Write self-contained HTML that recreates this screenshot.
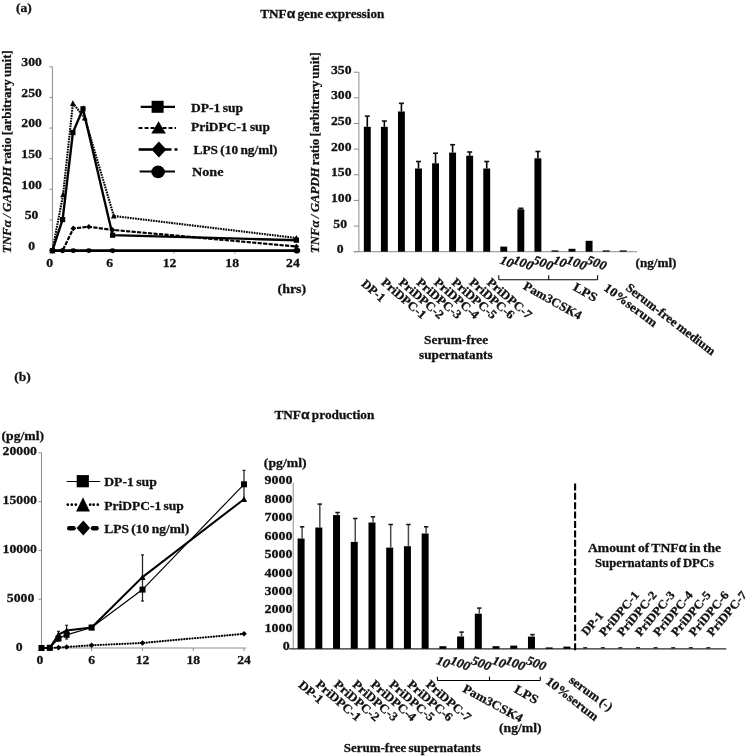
<!DOCTYPE html>
<html lang="en">
<head>
<meta charset="utf-8">
<title>TNF alpha gene expression and production</title>
<style>
html, body { margin: 0; padding: 0; background: #ffffff; }
body { width: 748px; height: 756px; overflow: hidden; font-family: "Liberation Serif", serif; }
svg { display: block; filter: blur(0.4px); }
svg text { font-family: "Liberation Serif", serif; font-weight: bold; fill: #111; stroke: #111; stroke-width: 0.28px; word-spacing: -1px; }
</style>
</head>
<body>
<svg width="748" height="756" viewBox="0 0 748 756">
<rect x="0" y="0" width="748" height="756" fill="#ffffff"/>
<text transform="translate(15.9 11.6) scale(1.0140845070422537 1)" font-size="13.31" text-anchor="start">(a)</text>
<text transform="translate(260.3 18.2)" font-size="12.25" text-anchor="start" textLength="124" lengthAdjust="spacingAndGlyphs">TNF<tspan font-family="Liberation Sans" font-size="13">&#945;</tspan> gene expression</text>
<text transform="translate(14.3 381) scale(1.0140845070422537 1)" font-size="13.31" text-anchor="start">(b)</text>
<text transform="translate(274.4 418.6)" font-size="12.25" text-anchor="start" textLength="100" lengthAdjust="spacingAndGlyphs">TNF<tspan font-family="Liberation Sans" font-size="13">&#945;</tspan> production</text>
<line x1="52.4" y1="66.8" x2="52.4" y2="250.6" stroke="#8c8c8c" stroke-width="1"/>
<line x1="52.4" y1="250.6" x2="298" y2="250.6" stroke="#8c8c8c" stroke-width="1"/>
<line x1="49.4" y1="250.6" x2="52.4" y2="250.6" stroke="#8c8c8c" stroke-width="1"/>
<text transform="translate(31.6 249.79999999999998) scale(1.0328638497652582 1)" font-size="13.31" text-anchor="middle">0</text>
<line x1="49.4" y1="219.96666666666667" x2="52.4" y2="219.96666666666667" stroke="#8c8c8c" stroke-width="1"/>
<text transform="translate(31.6 219.16666666666666) scale(1.0328638497652582 1)" font-size="13.31" text-anchor="middle">50</text>
<line x1="49.4" y1="189.33333333333331" x2="52.4" y2="189.33333333333331" stroke="#8c8c8c" stroke-width="1"/>
<text transform="translate(31.6 188.5333333333333) scale(1.0328638497652582 1)" font-size="13.31" text-anchor="middle">100</text>
<line x1="49.4" y1="158.7" x2="52.4" y2="158.7" stroke="#8c8c8c" stroke-width="1"/>
<text transform="translate(31.6 157.89999999999998) scale(1.0328638497652582 1)" font-size="13.31" text-anchor="middle">150</text>
<line x1="49.4" y1="128.06666666666666" x2="52.4" y2="128.06666666666666" stroke="#8c8c8c" stroke-width="1"/>
<text transform="translate(31.6 127.26666666666667) scale(1.0328638497652582 1)" font-size="13.31" text-anchor="middle">200</text>
<line x1="49.4" y1="97.43333333333331" x2="52.4" y2="97.43333333333331" stroke="#8c8c8c" stroke-width="1"/>
<text transform="translate(31.6 96.63333333333331) scale(1.0328638497652582 1)" font-size="13.31" text-anchor="middle">250</text>
<line x1="49.4" y1="66.79999999999998" x2="52.4" y2="66.79999999999998" stroke="#8c8c8c" stroke-width="1"/>
<text transform="translate(31.6 65.99999999999999) scale(1.0328638497652582 1)" font-size="13.31" text-anchor="middle">300</text>
<text transform="translate(49.6 267) scale(1.0328638497652582 1)" font-size="13.31" text-anchor="middle">0</text>
<text transform="translate(109.8 267) scale(1.0328638497652582 1)" font-size="13.31" text-anchor="middle">6</text>
<text transform="translate(169.6 267) scale(1.0328638497652582 1)" font-size="13.31" text-anchor="middle">12</text>
<text transform="translate(232.2 267) scale(1.0328638497652582 1)" font-size="13.31" text-anchor="middle">18</text>
<text transform="translate(292.9 267) scale(1.0328638497652582 1)" font-size="13.31" text-anchor="middle">24</text>
<line x1="113" y1="250.6" x2="113" y2="253.6" stroke="#8c8c8c" stroke-width="1"/>
<line x1="174" y1="250.6" x2="174" y2="253.6" stroke="#8c8c8c" stroke-width="1"/>
<line x1="235" y1="250.6" x2="235" y2="253.6" stroke="#8c8c8c" stroke-width="1"/>
<line x1="296" y1="250.6" x2="296" y2="253.6" stroke="#8c8c8c" stroke-width="1"/>
<text transform="translate(277.5 292.5)" font-size="13.31" text-anchor="start" textLength="28.7" lengthAdjust="spacingAndGlyphs">(hrs)</text>
<text transform="translate(11.2 253.2) rotate(-90)" font-size="12.99" text-anchor="start" textLength="203" lengthAdjust="spacingAndGlyphs"><tspan font-style="italic">TNF&#945; / GAPDH</tspan> ratio [arbitrary unit]</text>
<polyline points="52.4,250.6 62.6,250.6 73.30000000000001,250.6 88.8,250.6 112.6,250.6 296.4,250.6" fill="none" stroke="#000" stroke-width="2.8"/>
<polyline points="52.4,250.6 62.6,250.6 73.30000000000001,228.4 88.8,226.8 112.6,229.9 296.4,246.5" fill="none" stroke="#000" stroke-width="2.2" stroke-dasharray="4.2 1.3"/>
<polyline points="52.4,250.6 63.1,194.6 72.9,103.4 84.8,117.9 113.8,216.0 296.4,238.0" fill="none" stroke="#000" stroke-width="2.1" stroke-dasharray="1.7 0.9"/>
<polyline points="52.4,250.6 62.6,219.6 72.9,132.6 83.0,108.8 112.6,235.2 296.4,240.2" fill="none" stroke="#000" stroke-width="2.4"/>
<ellipse cx="52.4" cy="250.6" rx="2.8" ry="2.3" fill="#000"/>
<ellipse cx="62.6" cy="250.6" rx="2.8" ry="2.3" fill="#000"/>
<ellipse cx="73.30000000000001" cy="250.6" rx="2.8" ry="2.3" fill="#000"/>
<ellipse cx="88.8" cy="250.6" rx="2.8" ry="2.3" fill="#000"/>
<ellipse cx="112.6" cy="250.6" rx="2.8" ry="2.3" fill="#000"/>
<ellipse cx="296.4" cy="250.6" rx="2.8" ry="2.3" fill="#000"/>
<ellipse cx="297.0" cy="250.6" rx="3.3" ry="2.8" fill="#000"/>
<polygon points="52.4,247.79999999999998 55.199999999999996,250.6 52.4,253.4 49.6,250.6" fill="#000"/>
<polygon points="62.6,247.79999999999998 65.4,250.6 62.6,253.4 59.800000000000004,250.6" fill="#000"/>
<polygon points="73.30000000000001,225.6 76.10000000000001,228.4 73.30000000000001,231.20000000000002 70.50000000000001,228.4" fill="#000"/>
<polygon points="88.8,224.0 91.6,226.8 88.8,229.60000000000002 86.0,226.8" fill="#000"/>
<polygon points="112.6,227.1 115.39999999999999,229.9 112.6,232.70000000000002 109.8,229.9" fill="#000"/>
<polygon points="296.4,243.7 299.2,246.5 296.4,249.3 293.59999999999997,246.5" fill="#000"/>
<polygon points="52.4,247.48999999999998 55.3,253.21 49.5,253.21" fill="#000"/>
<polygon points="63.1,191.48999999999998 66.0,197.21 60.2,197.21" fill="#000"/>
<polygon points="72.9,100.29 75.80000000000001,106.01 70.0,106.01" fill="#000"/>
<polygon points="84.8,114.79 87.7,120.51 81.89999999999999,120.51" fill="#000"/>
<polygon points="113.8,212.89 116.7,218.61 110.89999999999999,218.61" fill="#000"/>
<polygon points="296.4,234.89 299.29999999999995,240.61 293.5,240.61" fill="#000"/>
<rect x="49.8" y="248.0" width="5.2" height="5.2" fill="#000"/>
<rect x="60.0" y="217.0" width="5.2" height="5.2" fill="#000"/>
<rect x="70.30000000000001" y="130.0" width="5.2" height="5.2" fill="#000"/>
<rect x="80.4" y="106.2" width="5.2" height="5.2" fill="#000"/>
<rect x="110.0" y="232.6" width="5.2" height="5.2" fill="#000"/>
<rect x="293.79999999999995" y="237.6" width="5.2" height="5.2" fill="#000"/>
<line x1="140.7" y1="106.8" x2="175" y2="106.8" stroke="#000" stroke-width="2.2"/>
<rect x="151.6" y="100.8" width="12" height="12" fill="#000"/>
<line x1="138.6" y1="128.1" x2="176" y2="128.1" stroke="#000" stroke-width="2" stroke-dasharray="3.9 2.1"/>
<polygon points="158.6,121.2 165.9,133.6 151.3,133.6" fill="#000"/>
<line x1="138.6" y1="149.5" x2="160" y2="149.5" stroke="#000" stroke-width="2.6"/>
<line x1="160" y1="149.5" x2="177.5" y2="149.5" stroke="#000" stroke-width="2.6" stroke-dasharray="11.5 3 3 3"/>
<polygon points="158.9,141.6 166.4,149.6 158.9,157.6 151.4,149.6" fill="#000"/>
<line x1="139.6" y1="171.5" x2="175" y2="171.5" stroke="#000" stroke-width="2.2"/>
<ellipse cx="158.1" cy="171.9" rx="6.8" ry="6.3" fill="#000"/>
<text transform="translate(191 112)" font-size="13.31" text-anchor="start" textLength="52" lengthAdjust="spacingAndGlyphs">DP-1 sup</text>
<text transform="translate(191 131)" font-size="13.31" text-anchor="start" textLength="79" lengthAdjust="spacingAndGlyphs">PriDPC-1 sup</text>
<text transform="translate(193.5 154.2)" font-size="13.31" text-anchor="start" textLength="84" lengthAdjust="spacingAndGlyphs">LPS (10 ng/ml)</text>
<text transform="translate(192 176.2)" font-size="13.31" text-anchor="start" textLength="31.5" lengthAdjust="spacingAndGlyphs">None</text>
<line x1="358.9" y1="72.2" x2="358.9" y2="251.7" stroke="#8c8c8c" stroke-width="1"/>
<line x1="353.7" y1="251.7" x2="637" y2="251.7" stroke="#8c8c8c" stroke-width="1"/>
<line x1="353.7" y1="251.7" x2="358.9" y2="251.7" stroke="#8c8c8c" stroke-width="1"/>
<text transform="translate(340.2 253.29999999999998) scale(1.0328638497652582 1)" font-size="13.31" text-anchor="middle">0</text>
<line x1="353.7" y1="226.05714285714285" x2="358.9" y2="226.05714285714285" stroke="#8c8c8c" stroke-width="1"/>
<text transform="translate(340.2 227.65714285714284) scale(1.0328638497652582 1)" font-size="13.31" text-anchor="middle">50</text>
<line x1="353.7" y1="200.4142857142857" x2="358.9" y2="200.4142857142857" stroke="#8c8c8c" stroke-width="1"/>
<text transform="translate(341.3 202.0142857142857) scale(1.0328638497652582 1)" font-size="13.31" text-anchor="middle">100</text>
<line x1="353.7" y1="174.77142857142854" x2="358.9" y2="174.77142857142854" stroke="#8c8c8c" stroke-width="1"/>
<text transform="translate(341.3 176.37142857142854) scale(1.0328638497652582 1)" font-size="13.31" text-anchor="middle">150</text>
<line x1="353.7" y1="149.1285714285714" x2="358.9" y2="149.1285714285714" stroke="#8c8c8c" stroke-width="1"/>
<text transform="translate(341.3 150.7285714285714) scale(1.0328638497652582 1)" font-size="13.31" text-anchor="middle">200</text>
<line x1="353.7" y1="123.48571428571427" x2="358.9" y2="123.48571428571427" stroke="#8c8c8c" stroke-width="1"/>
<text transform="translate(341.3 125.08571428571426) scale(1.0328638497652582 1)" font-size="13.31" text-anchor="middle">250</text>
<line x1="353.7" y1="97.84285714285713" x2="358.9" y2="97.84285714285713" stroke="#8c8c8c" stroke-width="1"/>
<text transform="translate(341.3 99.44285714285712) scale(1.0328638497652582 1)" font-size="13.31" text-anchor="middle">300</text>
<line x1="353.7" y1="72.19999999999996" x2="358.9" y2="72.19999999999996" stroke="#8c8c8c" stroke-width="1"/>
<text transform="translate(341.3 73.79999999999995) scale(1.0328638497652582 1)" font-size="13.31" text-anchor="middle">350</text>
<text transform="translate(319.3 253.2) rotate(-90)" font-size="12.99" text-anchor="start" textLength="201" lengthAdjust="spacingAndGlyphs"><tspan font-style="italic">TNF&#945; / GAPDH</tspan> ratio [arbitrary unit]</text>
<rect x="363.85" y="126.8" width="6.9" height="124.89999999999999" fill="#000"/>
<line x1="367.3" y1="116.1" x2="367.3" y2="126.8" stroke="#000" stroke-width="1.6"/>
<line x1="364.8" y1="116.1" x2="369.8" y2="116.1" stroke="#111" stroke-width="1.6"/>
<rect x="380.91" y="126.8" width="6.9" height="124.89999999999999" fill="#000"/>
<line x1="384.36" y1="121.0" x2="384.36" y2="126.8" stroke="#000" stroke-width="1.6"/>
<line x1="381.86" y1="121.0" x2="386.86" y2="121.0" stroke="#111" stroke-width="1.6"/>
<rect x="397.97" y="111.5" width="6.9" height="140.2" fill="#000"/>
<line x1="401.42" y1="103.3" x2="401.42" y2="111.5" stroke="#000" stroke-width="1.6"/>
<line x1="398.92" y1="103.3" x2="403.92" y2="103.3" stroke="#111" stroke-width="1.6"/>
<rect x="415.03000000000003" y="168.5" width="6.9" height="83.19999999999999" fill="#000"/>
<line x1="418.48" y1="161.5" x2="418.48" y2="168.5" stroke="#000" stroke-width="1.6"/>
<line x1="415.98" y1="161.5" x2="420.98" y2="161.5" stroke="#111" stroke-width="1.6"/>
<rect x="432.09000000000003" y="163.3" width="6.9" height="88.39999999999998" fill="#000"/>
<line x1="435.54" y1="153.2" x2="435.54" y2="163.3" stroke="#000" stroke-width="1.6"/>
<line x1="433.04" y1="153.2" x2="438.04" y2="153.2" stroke="#111" stroke-width="1.6"/>
<rect x="449.15000000000003" y="152.6" width="6.9" height="99.1" fill="#000"/>
<line x1="452.6" y1="144.7" x2="452.6" y2="152.6" stroke="#000" stroke-width="1.6"/>
<line x1="450.1" y1="144.7" x2="455.1" y2="144.7" stroke="#111" stroke-width="1.6"/>
<rect x="466.21" y="155.7" width="6.9" height="96.0" fill="#000"/>
<line x1="469.65999999999997" y1="152.0" x2="469.65999999999997" y2="155.7" stroke="#000" stroke-width="1.6"/>
<line x1="467.15999999999997" y1="152.0" x2="472.15999999999997" y2="152.0" stroke="#111" stroke-width="1.6"/>
<rect x="483.27000000000004" y="168.5" width="6.9" height="83.19999999999999" fill="#000"/>
<line x1="486.72" y1="161.5" x2="486.72" y2="168.5" stroke="#000" stroke-width="1.6"/>
<line x1="484.22" y1="161.5" x2="489.22" y2="161.5" stroke="#111" stroke-width="1.6"/>
<rect x="500.33" y="246.6" width="6.9" height="5.099999999999994" fill="#000"/>
<rect x="517.39" y="209.3" width="6.9" height="42.39999999999998" fill="#000"/>
<line x1="520.84" y1="208.3" x2="520.84" y2="209.3" stroke="#000" stroke-width="1.6"/>
<line x1="518.34" y1="208.3" x2="523.34" y2="208.3" stroke="#111" stroke-width="1.6"/>
<rect x="534.4499999999999" y="158.3" width="6.9" height="93.39999999999998" fill="#000"/>
<line x1="537.9" y1="151.5" x2="537.9" y2="158.3" stroke="#000" stroke-width="1.6"/>
<line x1="535.4" y1="151.5" x2="540.4" y2="151.5" stroke="#111" stroke-width="1.6"/>
<rect x="551.51" y="250.4" width="6.9" height="1.299999999999983" fill="#000"/>
<rect x="568.5699999999999" y="248.8" width="6.9" height="2.8999999999999773" fill="#000"/>
<rect x="585.6299999999999" y="240.8" width="6.9" height="10.899999999999977" fill="#000"/>
<rect x="602.6899999999999" y="250.4" width="6.9" height="1.299999999999983" fill="#000"/>
<rect x="619.75" y="250.4" width="6.9" height="1.299999999999983" fill="#000"/>
<text transform="translate(360.7 285.0) rotate(41)" font-size="12.35" text-anchor="start" textLength="26.8" lengthAdjust="spacingAndGlyphs">DP-1</text>
<text transform="translate(380.4 283.5) rotate(41)" font-size="12.35" text-anchor="start" textLength="55" lengthAdjust="spacingAndGlyphs">PriDPC-1</text>
<text transform="translate(398.03 283.5) rotate(41)" font-size="12.35" text-anchor="start" textLength="55" lengthAdjust="spacingAndGlyphs">PriDPC-2</text>
<text transform="translate(415.65999999999997 283.5) rotate(41)" font-size="12.35" text-anchor="start" textLength="55" lengthAdjust="spacingAndGlyphs">PriDPC-3</text>
<text transform="translate(433.28999999999996 283.5) rotate(41)" font-size="12.35" text-anchor="start" textLength="55" lengthAdjust="spacingAndGlyphs">PriDPC-4</text>
<text transform="translate(450.91999999999996 283.5) rotate(41)" font-size="12.35" text-anchor="start" textLength="55" lengthAdjust="spacingAndGlyphs">PriDPC-5</text>
<text transform="translate(468.54999999999995 283.5) rotate(41)" font-size="12.35" text-anchor="start" textLength="55" lengthAdjust="spacingAndGlyphs">PriDPC-6</text>
<text transform="translate(486.17999999999995 283.5) rotate(41)" font-size="12.35" text-anchor="start" textLength="55" lengthAdjust="spacingAndGlyphs">PriDPC-7</text>
<text transform="translate(499.3 263.3) rotate(20) scale(1.051643192488263 1)" font-size="12.78" text-anchor="start" font-style="italic" stroke="#111" stroke-width="0.45">10</text>
<text transform="translate(512.3 263.3) rotate(20) scale(1.051643192488263 1)" font-size="12.78" text-anchor="start" font-style="italic" stroke="#111" stroke-width="0.45">100</text>
<text transform="translate(532.3 263.3) rotate(20) scale(1.051643192488263 1)" font-size="12.78" text-anchor="start" font-style="italic" stroke="#111" stroke-width="0.45">500</text>
<text transform="translate(552.3 263.3) rotate(20) scale(1.051643192488263 1)" font-size="12.78" text-anchor="start" font-style="italic" stroke="#111" stroke-width="0.45">10</text>
<text transform="translate(565.8 263.3) rotate(20) scale(1.051643192488263 1)" font-size="12.78" text-anchor="start" font-style="italic" stroke="#111" stroke-width="0.45">100</text>
<text transform="translate(585.8 263.3) rotate(20) scale(1.051643192488263 1)" font-size="12.78" text-anchor="start" font-style="italic" stroke="#111" stroke-width="0.45">500</text>
<text transform="translate(635.5 266.5)" font-size="13.31" text-anchor="start" textLength="41" lengthAdjust="spacingAndGlyphs">(ng/ml)</text>
<line x1="498.8" y1="279.7" x2="597.6" y2="279.7" stroke="#000" stroke-width="1.1"/>
<line x1="498.8" y1="275.2" x2="498.8" y2="279.7" stroke="#000" stroke-width="1.1"/>
<line x1="548.7" y1="275.2" x2="548.7" y2="279.7" stroke="#000" stroke-width="1.1"/>
<line x1="597.6" y1="275.2" x2="597.6" y2="279.7" stroke="#000" stroke-width="1.1"/>
<text transform="translate(522.5 288.6) rotate(29)" font-size="12.57" text-anchor="start" textLength="64.5" lengthAdjust="spacingAndGlyphs">Pam3CSK4</text>
<text transform="translate(572.2 289.5) rotate(29.5)" font-size="12.57" text-anchor="start" textLength="25.5" lengthAdjust="spacingAndGlyphs">LPS</text>
<text transform="translate(603.1 289.5) rotate(37)" font-size="12.57" text-anchor="start" textLength="63" lengthAdjust="spacingAndGlyphs">10%serum</text>
<text transform="translate(624.9 289.3) rotate(37.5)" font-size="12.57" text-anchor="start" textLength="109" lengthAdjust="spacingAndGlyphs">Serum-free medium</text>
<text transform="translate(456.1 343.6)" font-size="12.78" text-anchor="middle" textLength="64" lengthAdjust="spacingAndGlyphs">Serum-free</text>
<text transform="translate(455.8 358.8)" font-size="12.78" text-anchor="middle" textLength="73.5" lengthAdjust="spacingAndGlyphs">supernatants</text>
<line x1="41.5" y1="452.8" x2="41.5" y2="648.0" stroke="#8c8c8c" stroke-width="1"/>
<line x1="41.5" y1="648.0" x2="246" y2="648.0" stroke="#8c8c8c" stroke-width="1"/>
<line x1="38.5" y1="648.0" x2="41.5" y2="648.0" stroke="#8c8c8c" stroke-width="1"/>
<text transform="translate(19.3 650.6) scale(1.0328638497652582 1)" font-size="13.31" text-anchor="middle">0</text>
<line x1="38.5" y1="599.2" x2="41.5" y2="599.2" stroke="#8c8c8c" stroke-width="1"/>
<text transform="translate(34.3 601.8000000000001) scale(1.0328638497652582 1)" font-size="13.31" text-anchor="end">5000</text>
<line x1="38.5" y1="550.4" x2="41.5" y2="550.4" stroke="#8c8c8c" stroke-width="1"/>
<text transform="translate(36.9 553.0) scale(1.0328638497652582 1)" font-size="13.31" text-anchor="end">10000</text>
<line x1="38.5" y1="501.6" x2="41.5" y2="501.6" stroke="#8c8c8c" stroke-width="1"/>
<text transform="translate(36.9 504.20000000000005) scale(1.0328638497652582 1)" font-size="13.31" text-anchor="end">15000</text>
<line x1="38.5" y1="452.8" x2="41.5" y2="452.8" stroke="#8c8c8c" stroke-width="1"/>
<text transform="translate(36.9 455.40000000000003) scale(1.0328638497652582 1)" font-size="13.31" text-anchor="end">20000</text>
<text transform="translate(40 663.8) scale(1.0328638497652582 1)" font-size="13.31" text-anchor="middle">0</text>
<text transform="translate(91.6 663.8) scale(1.0328638497652582 1)" font-size="13.31" text-anchor="middle">6</text>
<line x1="91.6" y1="648.0" x2="91.6" y2="651.0" stroke="#8c8c8c" stroke-width="1"/>
<text transform="translate(142.5 663.8) scale(1.0328638497652582 1)" font-size="13.31" text-anchor="middle">12</text>
<line x1="142.5" y1="648.0" x2="142.5" y2="651.0" stroke="#8c8c8c" stroke-width="1"/>
<text transform="translate(193.3 663.8) scale(1.0328638497652582 1)" font-size="13.31" text-anchor="middle">18</text>
<line x1="193.3" y1="648.0" x2="193.3" y2="651.0" stroke="#8c8c8c" stroke-width="1"/>
<text transform="translate(244 663.8) scale(1.0328638497652582 1)" font-size="13.31" text-anchor="middle">24</text>
<line x1="244" y1="648.0" x2="244" y2="651.0" stroke="#8c8c8c" stroke-width="1"/>
<text transform="translate(1.5 439.6)" font-size="13.31" text-anchor="start" textLength="42.6" lengthAdjust="spacingAndGlyphs">(pg/ml)</text>
<polyline points="41.5,648 49.8,648 58.5,647.6 66.6,647.0 91.6,645.3 142.5,643.0 244,633.8" fill="none" stroke="#000" stroke-width="2.2" stroke-dasharray="0.1 2.6" stroke-linecap="round"/>
<polyline points="41.5,648 49.8,647.8 58.5,634.5 66.6,630.5 91.6,627.5 142.5,577.1 244,499.2" fill="none" stroke="#000" stroke-width="2.0"/>
<polyline points="41.5,648 49.8,647.8 58.5,638.5 66.6,634.8 91.6,627.5 142.5,589.6 244,484.3" fill="none" stroke="#000" stroke-width="1.2"/>
<line x1="142.5" y1="554.9" x2="142.5" y2="601.0" stroke="#222" stroke-width="1.25"/>
<line x1="141.0" y1="554.9" x2="144.0" y2="554.9" stroke="#222" stroke-width="1.25"/>
<line x1="141.0" y1="601.0" x2="144.0" y2="601.0" stroke="#222" stroke-width="1.25"/>
<line x1="244" y1="470.4" x2="244" y2="500.8" stroke="#222" stroke-width="1.25"/>
<line x1="242.5" y1="470.4" x2="245.5" y2="470.4" stroke="#222" stroke-width="1.25"/>
<line x1="242.5" y1="500.8" x2="245.5" y2="500.8" stroke="#222" stroke-width="1.25"/>
<line x1="58.5" y1="631.3" x2="58.5" y2="641" stroke="#222" stroke-width="1.25"/>
<line x1="57.0" y1="631.3" x2="60.0" y2="631.3" stroke="#222" stroke-width="1.25"/>
<line x1="57.0" y1="641" x2="60.0" y2="641" stroke="#222" stroke-width="1.25"/>
<line x1="66.6" y1="625.3" x2="66.6" y2="639" stroke="#222" stroke-width="1.25"/>
<line x1="65.1" y1="625.3" x2="68.1" y2="625.3" stroke="#222" stroke-width="1.25"/>
<line x1="65.1" y1="639" x2="68.1" y2="639" stroke="#222" stroke-width="1.25"/>
<polygon points="41.5,645.2 44.3,648 41.5,650.8 38.7,648" fill="#000"/>
<polygon points="49.8,645.2 52.599999999999994,648 49.8,650.8 47.0,648" fill="#000"/>
<polygon points="58.5,644.8000000000001 61.3,647.6 58.5,650.4 55.7,647.6" fill="#000"/>
<polygon points="66.6,644.2 69.39999999999999,647.0 66.6,649.8 63.8,647.0" fill="#000"/>
<polygon points="91.6,642.5 94.39999999999999,645.3 91.6,648.0999999999999 88.8,645.3" fill="#000"/>
<polygon points="142.5,640.2 145.3,643.0 142.5,645.8 139.7,643.0" fill="#000"/>
<polygon points="244,631.0 246.8,633.8 244,636.5999999999999 241.2,633.8" fill="#000"/>
<polygon points="41.5,644.71 44.6,650.79 38.4,650.79" fill="#000"/>
<polygon points="49.8,644.51 52.9,650.5899999999999 46.699999999999996,650.5899999999999" fill="#000"/>
<polygon points="58.5,631.21 61.6,637.29 55.4,637.29" fill="#000"/>
<polygon points="66.6,627.21 69.69999999999999,633.29 63.49999999999999,633.29" fill="#000"/>
<polygon points="91.6,624.21 94.69999999999999,630.29 88.5,630.29" fill="#000"/>
<polygon points="142.5,573.8100000000001 145.6,579.89 139.4,579.89" fill="#000"/>
<polygon points="244,495.90999999999997 247.1,501.99 240.9,501.99" fill="#000"/>
<rect x="38.5" y="645.0" width="6.0" height="6.0" fill="#000"/>
<rect x="46.8" y="644.8" width="6.0" height="6.0" fill="#000"/>
<rect x="55.5" y="635.5" width="6.0" height="6.0" fill="#000"/>
<rect x="63.599999999999994" y="631.8" width="6.0" height="6.0" fill="#000"/>
<rect x="88.6" y="624.5" width="6.0" height="6.0" fill="#000"/>
<rect x="139.5" y="586.6" width="6.0" height="6.0" fill="#000"/>
<rect x="241.0" y="481.3" width="6.0" height="6.0" fill="#000"/>
<line x1="66.8" y1="481.5" x2="100.3" y2="481.5" stroke="#000" stroke-width="1.1"/>
<rect x="76.7" y="475.09999999999997" width="12.2" height="12.2" fill="#000"/>
<circle cx="67.8" cy="504.7" r="1.35" fill="#000"/>
<circle cx="71.8" cy="504.7" r="1.35" fill="#000"/>
<circle cx="75.8" cy="504.7" r="1.35" fill="#000"/>
<circle cx="90.2" cy="504.7" r="1.35" fill="#000"/>
<circle cx="93.6" cy="504.7" r="1.35" fill="#000"/>
<circle cx="97.8" cy="504.7" r="1.35" fill="#000"/>
<polygon points="83,497.2 89.9,511.6 76.1,511.6" fill="#000"/>
<line x1="69.2" y1="528.2" x2="73.6" y2="528.2" stroke="#000" stroke-width="4.4" stroke-linecap="round"/>
<line x1="93" y1="528.2" x2="96.6" y2="528.2" stroke="#000" stroke-width="4.4" stroke-linecap="round"/>
<polygon points="83.3,520.5 90.1,528 83.3,535.5 76.5,528" fill="#000"/>
<text transform="translate(104.2 486.4)" font-size="13.31" text-anchor="start" textLength="52.6" lengthAdjust="spacingAndGlyphs">DP-1 sup</text>
<text transform="translate(104.2 509.5)" font-size="13.31" text-anchor="start" textLength="79.6" lengthAdjust="spacingAndGlyphs">PriDPC-1 sup</text>
<text transform="translate(104.2 533.4)" font-size="13.31" text-anchor="start" textLength="85.1" lengthAdjust="spacingAndGlyphs">LPS (10 ng/ml)</text>
<line x1="293.2" y1="482.7" x2="293.2" y2="648.8" stroke="#8c8c8c" stroke-width="1"/>
<line x1="289.2" y1="648.8" x2="726.3" y2="648.8" stroke="#2a2a2a" stroke-width="1.3"/>
<text transform="translate(289.8 650.4) scale(1.051643192488263 1)" font-size="13.31" text-anchor="end">0</text>
<text transform="translate(292.4 631.9444444444445) scale(1.051643192488263 1)" font-size="13.31" text-anchor="end">1000</text>
<text transform="translate(292.4 613.4888888888888) scale(1.051643192488263 1)" font-size="13.31" text-anchor="end">2000</text>
<text transform="translate(292.4 595.0333333333333) scale(1.051643192488263 1)" font-size="13.31" text-anchor="end">3000</text>
<text transform="translate(292.4 576.5777777777778) scale(1.051643192488263 1)" font-size="13.31" text-anchor="end">4000</text>
<text transform="translate(292.4 558.1222222222223) scale(1.051643192488263 1)" font-size="13.31" text-anchor="end">5000</text>
<text transform="translate(292.4 539.6666666666666) scale(1.051643192488263 1)" font-size="13.31" text-anchor="end">6000</text>
<text transform="translate(292.4 521.2111111111111) scale(1.051643192488263 1)" font-size="13.31" text-anchor="end">7000</text>
<text transform="translate(292.4 502.7555555555556) scale(1.051643192488263 1)" font-size="13.31" text-anchor="end">8000</text>
<text transform="translate(292.4 484.3) scale(1.051643192488263 1)" font-size="13.31" text-anchor="end">9000</text>
<text transform="translate(263.8 467)" font-size="13.31" text-anchor="start" textLength="42.8" lengthAdjust="spacingAndGlyphs">(pg/ml)</text>
<rect x="297.6" y="538.5" width="7" height="110.29999999999995" fill="#000"/>
<line x1="302.1" y1="526.8" x2="302.1" y2="538.5" stroke="#4a4a4a" stroke-width="1.5"/>
<line x1="299.90000000000003" y1="526.8" x2="304.3" y2="526.8" stroke="#111" stroke-width="1.5"/>
<rect x="315.32000000000005" y="527.5" width="7" height="121.29999999999995" fill="#000"/>
<line x1="319.82000000000005" y1="504.1" x2="319.82000000000005" y2="527.5" stroke="#4a4a4a" stroke-width="1.5"/>
<line x1="317.62000000000006" y1="504.1" x2="322.02000000000004" y2="504.1" stroke="#111" stroke-width="1.5"/>
<rect x="333.04" y="515.1" width="7" height="133.69999999999993" fill="#000"/>
<line x1="337.54" y1="512.5" x2="337.54" y2="515.1" stroke="#4a4a4a" stroke-width="1.5"/>
<line x1="335.34000000000003" y1="512.5" x2="339.74" y2="512.5" stroke="#111" stroke-width="1.5"/>
<rect x="350.76" y="541.9" width="7" height="106.89999999999998" fill="#000"/>
<line x1="355.26" y1="518.5" x2="355.26" y2="541.9" stroke="#4a4a4a" stroke-width="1.5"/>
<line x1="353.06" y1="518.5" x2="357.46" y2="518.5" stroke="#111" stroke-width="1.5"/>
<rect x="368.48" y="522.5" width="7" height="126.29999999999995" fill="#000"/>
<line x1="372.98" y1="516.8" x2="372.98" y2="522.5" stroke="#4a4a4a" stroke-width="1.5"/>
<line x1="370.78000000000003" y1="516.8" x2="375.18" y2="516.8" stroke="#111" stroke-width="1.5"/>
<rect x="386.20000000000005" y="547.6" width="7" height="101.19999999999993" fill="#000"/>
<line x1="390.70000000000005" y1="524.5" x2="390.70000000000005" y2="547.6" stroke="#4a4a4a" stroke-width="1.5"/>
<line x1="388.50000000000006" y1="524.5" x2="392.90000000000003" y2="524.5" stroke="#111" stroke-width="1.5"/>
<rect x="403.92" y="546.2" width="7" height="102.59999999999991" fill="#000"/>
<line x1="408.42" y1="524.5" x2="408.42" y2="546.2" stroke="#4a4a4a" stroke-width="1.5"/>
<line x1="406.22" y1="524.5" x2="410.62" y2="524.5" stroke="#111" stroke-width="1.5"/>
<rect x="421.64" y="533.5" width="7" height="115.29999999999995" fill="#000"/>
<line x1="426.14" y1="526.8" x2="426.14" y2="533.5" stroke="#4a4a4a" stroke-width="1.5"/>
<line x1="423.94" y1="526.8" x2="428.34" y2="526.8" stroke="#111" stroke-width="1.5"/>
<rect x="439.36" y="646.2" width="7" height="2.599999999999909" fill="#000"/>
<rect x="457.08000000000004" y="636.5" width="7" height="12.299999999999955" fill="#000"/>
<line x1="461.58000000000004" y1="632.1" x2="461.58000000000004" y2="636.5" stroke="#4a4a4a" stroke-width="1.5"/>
<line x1="459.38000000000005" y1="632.1" x2="463.78000000000003" y2="632.1" stroke="#111" stroke-width="1.5"/>
<rect x="474.8" y="613.7" width="7" height="35.09999999999991" fill="#000"/>
<line x1="479.3" y1="608.1" x2="479.3" y2="613.7" stroke="#4a4a4a" stroke-width="1.5"/>
<line x1="477.1" y1="608.1" x2="481.5" y2="608.1" stroke="#111" stroke-width="1.5"/>
<rect x="492.52" y="646.2" width="7" height="2.599999999999909" fill="#000"/>
<rect x="510.24" y="645.6" width="7" height="3.199999999999932" fill="#000"/>
<rect x="527.96" y="636.6" width="7" height="12.199999999999932" fill="#000"/>
<line x1="532.46" y1="634.6" x2="532.46" y2="636.6" stroke="#4a4a4a" stroke-width="1.5"/>
<line x1="530.26" y1="634.6" x2="534.6600000000001" y2="634.6" stroke="#111" stroke-width="1.5"/>
<rect x="545.6800000000001" y="647.4" width="7" height="1.3999999999999773" fill="#000"/>
<rect x="563.4" y="646.6" width="7" height="2.199999999999932" fill="#000"/>
<line x1="575.1" y1="483.4" x2="575.1" y2="651.8" stroke="#000" stroke-width="2.1" stroke-dasharray="7 2.4"/>
<line x1="583.2" y1="647.8" x2="587.2" y2="647.8" stroke="#000" stroke-width="1.2"/>
<line x1="600.8000000000001" y1="647.8" x2="604.8000000000001" y2="647.8" stroke="#000" stroke-width="1.2"/>
<line x1="618.4000000000001" y1="647.8" x2="622.4000000000001" y2="647.8" stroke="#000" stroke-width="1.2"/>
<line x1="636.0" y1="647.8" x2="640.0" y2="647.8" stroke="#000" stroke-width="1.2"/>
<line x1="653.6" y1="647.8" x2="657.6" y2="647.8" stroke="#000" stroke-width="1.2"/>
<line x1="671.2" y1="647.8" x2="675.2" y2="647.8" stroke="#000" stroke-width="1.2"/>
<line x1="688.8000000000001" y1="647.8" x2="692.8000000000001" y2="647.8" stroke="#000" stroke-width="1.2"/>
<line x1="706.4000000000001" y1="647.8" x2="710.4000000000001" y2="647.8" stroke="#000" stroke-width="1.2"/>
<text transform="translate(586.8 636.3) rotate(-50)" font-size="12.03" text-anchor="start" textLength="26.5" lengthAdjust="spacingAndGlyphs">DP-1</text>
<text transform="translate(604.5 637.0) rotate(-50)" font-size="12.03" text-anchor="start" textLength="54.5" lengthAdjust="spacingAndGlyphs">PriDPC-1</text>
<text transform="translate(622.47 637.0) rotate(-50)" font-size="12.03" text-anchor="start" textLength="54.5" lengthAdjust="spacingAndGlyphs">PriDPC-2</text>
<text transform="translate(640.44 637.0) rotate(-50)" font-size="12.03" text-anchor="start" textLength="54.5" lengthAdjust="spacingAndGlyphs">PriDPC-3</text>
<text transform="translate(658.41 637.0) rotate(-50)" font-size="12.03" text-anchor="start" textLength="54.5" lengthAdjust="spacingAndGlyphs">PriDPC-4</text>
<text transform="translate(676.38 637.0) rotate(-50)" font-size="12.03" text-anchor="start" textLength="54.5" lengthAdjust="spacingAndGlyphs">PriDPC-5</text>
<text transform="translate(694.35 637.0) rotate(-50)" font-size="12.03" text-anchor="start" textLength="54.5" lengthAdjust="spacingAndGlyphs">PriDPC-6</text>
<text transform="translate(712.3199999999999 637.0) rotate(-50)" font-size="12.03" text-anchor="start" textLength="54.5" lengthAdjust="spacingAndGlyphs">PriDPC-7</text>
<text transform="translate(654.5 551.5)" font-size="13.1" text-anchor="middle" textLength="133" lengthAdjust="spacingAndGlyphs">Amount of TNF<tspan font-family="Liberation Sans" font-size="13">&#945;</tspan> in the</text>
<text transform="translate(654.5 567)" font-size="13.1" text-anchor="middle" textLength="119" lengthAdjust="spacingAndGlyphs">Supernatants of DPCs</text>
<text transform="translate(297.8 686.2) rotate(40)" font-size="12.35" text-anchor="start" textLength="28" lengthAdjust="spacingAndGlyphs">DP-1</text>
<text transform="translate(315.0 685.6) rotate(41)" font-size="12.35" text-anchor="start" textLength="55.3" lengthAdjust="spacingAndGlyphs">PriDPC-1</text>
<text transform="translate(333.36 685.6) rotate(41)" font-size="12.35" text-anchor="start" textLength="55.3" lengthAdjust="spacingAndGlyphs">PriDPC-2</text>
<text transform="translate(351.72 685.6) rotate(41)" font-size="12.35" text-anchor="start" textLength="55.3" lengthAdjust="spacingAndGlyphs">PriDPC-3</text>
<text transform="translate(370.08 685.6) rotate(41)" font-size="12.35" text-anchor="start" textLength="55.3" lengthAdjust="spacingAndGlyphs">PriDPC-4</text>
<text transform="translate(388.44 685.6) rotate(41)" font-size="12.35" text-anchor="start" textLength="55.3" lengthAdjust="spacingAndGlyphs">PriDPC-5</text>
<text transform="translate(406.8 685.6) rotate(41)" font-size="12.35" text-anchor="start" textLength="55.3" lengthAdjust="spacingAndGlyphs">PriDPC-6</text>
<text transform="translate(425.15999999999997 685.6) rotate(41)" font-size="12.35" text-anchor="start" textLength="55.3" lengthAdjust="spacingAndGlyphs">PriDPC-7</text>
<text transform="translate(435.5 663.8) rotate(20) scale(1.051643192488263 1)" font-size="12.78" text-anchor="start" font-style="italic" stroke="#111" stroke-width="0.45">10</text>
<text transform="translate(449.5 663.8) rotate(20) scale(1.051643192488263 1)" font-size="12.78" text-anchor="start" font-style="italic" stroke="#111" stroke-width="0.45">100</text>
<text transform="translate(470.5 663.8) rotate(20) scale(1.051643192488263 1)" font-size="12.78" text-anchor="start" font-style="italic" stroke="#111" stroke-width="0.45">500</text>
<text transform="translate(491.5 663.8) rotate(20) scale(1.051643192488263 1)" font-size="12.78" text-anchor="start" font-style="italic" stroke="#111" stroke-width="0.45">10</text>
<text transform="translate(504.5 663.8) rotate(20) scale(1.051643192488263 1)" font-size="12.78" text-anchor="start" font-style="italic" stroke="#111" stroke-width="0.45">100</text>
<text transform="translate(525.5 663.8) rotate(20) scale(1.051643192488263 1)" font-size="12.78" text-anchor="start" font-style="italic" stroke="#111" stroke-width="0.45">500</text>
<line x1="437.4" y1="680.5" x2="540.3" y2="680.5" stroke="#000" stroke-width="1.1"/>
<line x1="437.4" y1="676.7" x2="437.4" y2="680.5" stroke="#000" stroke-width="1.1"/>
<line x1="489.5" y1="676.7" x2="489.5" y2="680.5" stroke="#000" stroke-width="1.1"/>
<line x1="540.3" y1="676.7" x2="540.3" y2="680.5" stroke="#000" stroke-width="1.1"/>
<text transform="translate(462 691.2) rotate(28.5)" font-size="12.57" text-anchor="start" textLength="66" lengthAdjust="spacingAndGlyphs">Pam3CSK4</text>
<text transform="translate(513.3 691.7) rotate(29.5)" font-size="12.57" text-anchor="start" textLength="25.5" lengthAdjust="spacingAndGlyphs">LPS</text>
<text transform="translate(545 682.7) rotate(38)" font-size="12.57" text-anchor="start" textLength="63" lengthAdjust="spacingAndGlyphs">10%serum</text>
<text transform="translate(568.2 681.8) rotate(36)" font-size="12.57" text-anchor="start" textLength="50.5" lengthAdjust="spacingAndGlyphs">serum (-)</text>
<text transform="translate(499 731.8)" font-size="13.31" text-anchor="start" textLength="42.5" lengthAdjust="spacingAndGlyphs">(ng/ml)</text>
<text transform="translate(343.7 752.2)" font-size="12.78" text-anchor="start" textLength="137" lengthAdjust="spacingAndGlyphs">Serum-free supernatants</text>
</svg>
</body>
</html>
